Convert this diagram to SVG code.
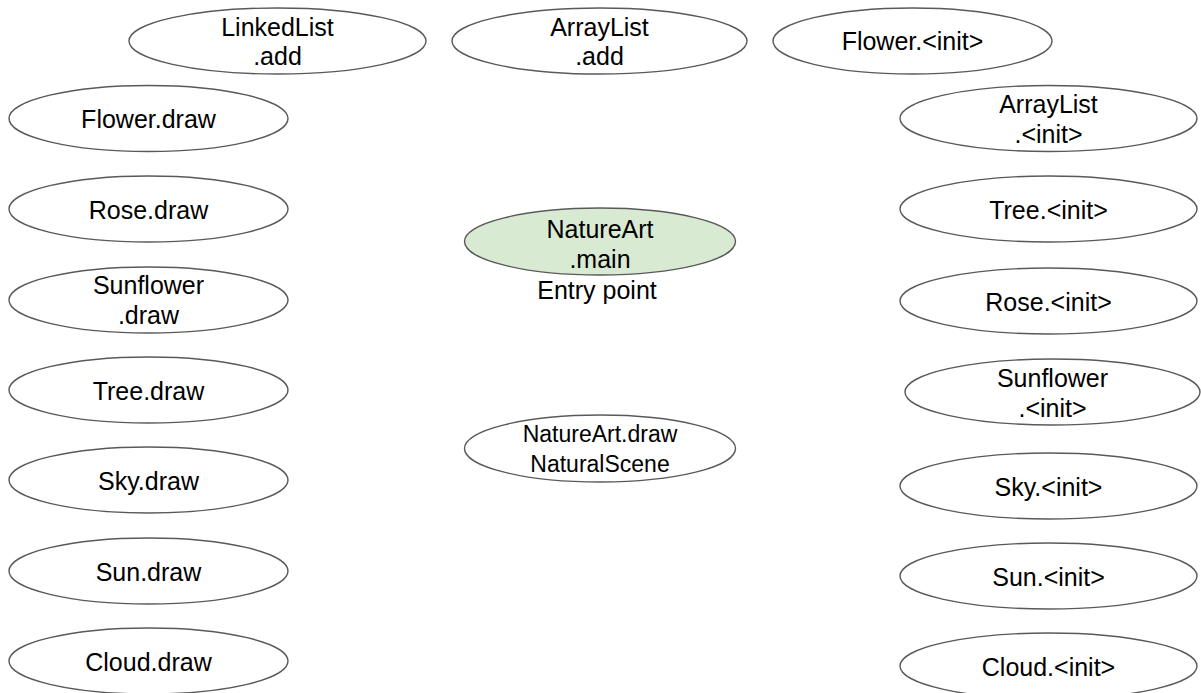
<svg xmlns="http://www.w3.org/2000/svg" width="1201" height="693" viewBox="0 0 1201 693">
  <style>
    .node ellipse { fill: #ffffff; stroke: #595959; stroke-width: 1.4; }
    .node.entry ellipse { fill: #d9ead3; }
    text { font-family: "Liberation Sans", Arial, sans-serif; font-size: 25px; fill: #000000; text-anchor: middle; }
    text.small { font-size: 23px; }
  </style>

  <!-- no call edges are drawn in this view -->
  <g id="connectors"></g>

  <!-- top row -->
  <g id="linkedlist-add" class="node">
    <ellipse cx="277.5" cy="41" rx="148.5" ry="33"/>
    <text x="277.5" y="36">LinkedList</text>
    <text x="277.5" y="65">.add</text>
  </g>
  <g id="arraylist-add" class="node">
    <ellipse cx="599.5" cy="41" rx="147.5" ry="33"/>
    <text x="599.5" y="36">ArrayList</text>
    <text x="599.5" y="65">.add</text>
  </g>
  <g id="flower-init" class="node">
    <ellipse cx="912.5" cy="41" rx="139.5" ry="33"/>
    <text x="912.5" y="50">Flower.&lt;init&gt;</text>
  </g>

  <!-- left column: draw methods -->
  <g id="flower-draw" class="node">
    <ellipse cx="148.5" cy="118.5" rx="139.5" ry="33"/>
    <text x="148.5" y="128">Flower.draw</text>
  </g>
  <g id="rose-draw" class="node">
    <ellipse cx="148.5" cy="209" rx="139.5" ry="33"/>
    <text x="148.5" y="218.5">Rose.draw</text>
  </g>
  <g id="sunflower-draw" class="node">
    <ellipse cx="148.5" cy="300" rx="139.5" ry="33"/>
    <text x="148.5" y="294">Sunflower</text>
    <text x="148.5" y="324">.draw</text>
  </g>
  <g id="tree-draw" class="node">
    <ellipse cx="148.5" cy="390" rx="139.5" ry="33"/>
    <text x="148.5" y="399.5">Tree.draw</text>
  </g>
  <g id="sky-draw" class="node">
    <ellipse cx="148.5" cy="480" rx="139.5" ry="33"/>
    <text x="148.5" y="489.5">Sky.draw</text>
  </g>
  <g id="sun-draw" class="node">
    <ellipse cx="148.5" cy="571" rx="139.5" ry="33"/>
    <text x="148.5" y="580.5">Sun.draw</text>
  </g>
  <g id="cloud-draw" class="node">
    <ellipse cx="148.5" cy="661" rx="139.5" ry="33"/>
    <text x="148.5" y="670.5">Cloud.draw</text>
  </g>

  <!-- centre column -->
  <g id="natureart-main" class="node entry">
    <ellipse cx="600" cy="241.5" rx="135.5" ry="33.5"/>
    <text x="600" y="238">NatureArt</text>
    <text x="600" y="268">.main</text>
    <text x="597" y="299">Entry point</text>
  </g>
  <g id="natureart-draw" class="node">
    <ellipse cx="600" cy="448.5" rx="135.5" ry="33.5"/>
    <text class="small" x="600" y="442">NatureArt.draw</text>
    <text class="small" x="600" y="472">NaturalScene</text>
  </g>

  <!-- right column: constructors -->
  <g id="arraylist-init" class="node">
    <ellipse cx="1048.5" cy="118.5" rx="148.5" ry="33"/>
    <text x="1048.5" y="113">ArrayList</text>
    <text x="1048.5" y="143">.&lt;init&gt;</text>
  </g>
  <g id="tree-init" class="node">
    <ellipse cx="1048.5" cy="209" rx="148.5" ry="33"/>
    <text x="1048.5" y="218.5">Tree.&lt;init&gt;</text>
  </g>
  <g id="rose-init" class="node">
    <ellipse cx="1048.5" cy="301" rx="148.5" ry="33"/>
    <text x="1048.5" y="310.5">Rose.&lt;init&gt;</text>
  </g>
  <g id="sunflower-init" class="node">
    <ellipse cx="1052.5" cy="392" rx="147.5" ry="33"/>
    <text x="1052.5" y="387">Sunflower</text>
    <text x="1052.5" y="417">.&lt;init&gt;</text>
  </g>
  <g id="sky-init" class="node">
    <ellipse cx="1048.5" cy="486" rx="148.5" ry="33"/>
    <text x="1048.5" y="495.5">Sky.&lt;init&gt;</text>
  </g>
  <g id="sun-init" class="node">
    <ellipse cx="1048.5" cy="576" rx="148.5" ry="33"/>
    <text x="1048.5" y="585.5">Sun.&lt;init&gt;</text>
  </g>
  <g id="cloud-init" class="node">
    <ellipse cx="1048.5" cy="666" rx="148.5" ry="33"/>
    <text x="1048.5" y="675.5">Cloud.&lt;init&gt;</text>
  </g>
</svg>
